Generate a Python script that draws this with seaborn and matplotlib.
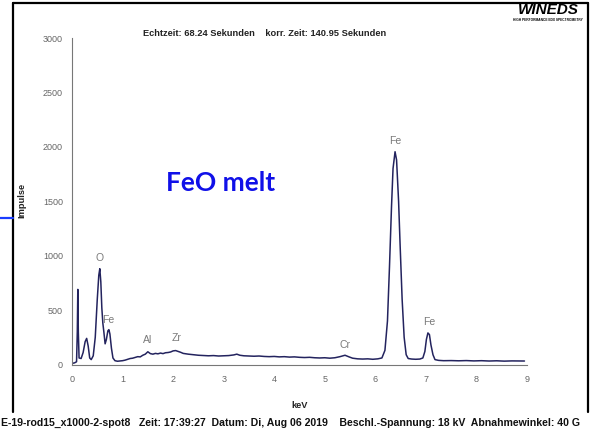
import matplotlib
matplotlib.use("Agg")
import matplotlib.pyplot as plt
import seaborn as sns
import pandas as pd
from matplotlib.lines import Line2D

# ---- data ----
kev = [0.00, 0.05, 0.09, 0.105, 0.115, 0.125, 0.14, 0.18, 0.22, 0.26, 0.29, 0.32, 0.35, 0.38,
       0.42, 0.46, 0.50, 0.53, 0.55, 0.57, 0.59, 0.61, 0.63, 0.655, 0.68, 0.71, 0.73, 0.75,
       0.78, 0.81, 0.85, 0.90, 0.95, 1.00, 1.05, 1.10, 1.15, 1.20, 1.25, 1.30, 1.35, 1.40,
       1.45, 1.50, 1.55, 1.60, 1.65, 1.70, 1.75, 1.80, 1.85, 1.90, 1.95, 2.00, 2.05, 2.10,
       2.15, 2.20, 2.30, 2.40, 2.50, 2.60, 2.70, 2.80, 2.90, 3.00, 3.10, 3.20, 3.26, 3.32,
       3.40, 3.50, 3.60, 3.70, 3.80, 3.90, 4.00, 4.10, 4.20, 4.30, 4.40, 4.50, 4.60, 4.70,
       4.80, 4.90, 5.00, 5.10, 5.20, 5.30, 5.40, 5.48, 5.55, 5.65, 5.75, 5.85, 5.95, 6.05,
       6.13, 6.19, 6.24, 6.28, 6.32, 6.35, 6.39, 6.42, 6.46, 6.49, 6.53, 6.57, 6.61, 6.65,
       6.72, 6.80, 6.88, 6.94, 6.98, 7.01, 7.04, 7.07, 7.10, 7.14, 7.18, 7.25, 7.35, 7.50,
       7.65, 7.80, 7.95, 8.10, 8.25, 8.40, 8.55, 8.70, 8.85, 8.95]
counts = [10, 15, 25, 300, 690, 300, 60, 55, 110, 210, 240, 170, 60, 45,
          80, 250, 600, 820, 880, 760, 520, 380, 300, 190, 230, 310, 320, 280,
          150, 60, 35, 30, 32, 35, 40, 48, 55, 58, 65, 72, 70, 85,
          95, 117, 100, 95, 102, 98, 105, 100, 108, 110, 115, 125, 128, 120,
          112, 102, 95, 90, 85, 82, 80, 82, 78, 80, 82, 88, 95, 85,
          80, 78, 76, 78, 74, 72, 74, 70, 72, 68, 70, 66, 64, 66,
          62, 60, 62, 58, 62, 72, 85, 70, 58, 52, 50, 52, 48, 52,
          60, 130, 400, 900, 1450, 1800, 1955, 1880, 1500, 1100, 600, 250, 90, 55,
          50, 48, 50, 60, 120, 230, 290, 275, 180, 90, 45, 38, 35, 36,
          34, 36, 33, 35, 32, 34, 31, 33, 32, 32]

peak_labels = ["O", "Fe", "Al", "Zr", "Cr", "Fe", "Fe"]
peak_x = [0.55, 0.72, 1.50, 2.06, 5.40, 6.40, 7.06]
peak_y = [977, 408, 225, 243, 179, 2052, 392]

x_ticks = [0, 1, 2, 3, 4, 5, 6, 7, 8, 9]
y_ticks = [0, 500, 1000, 1500, 2000, 2500, 3000]

sns.set_style("white")
plt.rcParams["font.family"] = ["Liberation Sans", "DejaVu Sans"]

W, H = 590, 436
fig = plt.figure(figsize=(W / 100, H / 100), dpi=100)
fig.patch.set_facecolor("white")

ax_left, ax_right = 72 / W, 527 / W
ax_bottom, ax_top = 1 - 364.5 / H, 1 - 38 / H
ax = fig.add_axes([ax_left, ax_bottom, ax_right - ax_left, ax_top - ax_bottom])

df = pd.DataFrame({"keV": kev, "Impulse": counts})
sns.lineplot(data=df, x="keV", y="Impulse", ax=ax, color="#23235e", lw=1.1, sort=False)

ax.set_xlim(0, 9)
ax.set_ylim(0, 3000)
ax.set_xticks(x_ticks)
ax.set_yticks(y_ticks)
ax.set_xticklabels([str(t) for t in x_ticks])
ax.set_yticklabels([str(t) for t in y_ticks])
ax.tick_params(axis="both", direction="out", length=4.5, width=0.8, color="#777777",
               labelsize=6.5, labelcolor="#666666", pad=3)
ax.tick_params(axis="y", pad=2)
for s in ["top", "right"]:
    ax.spines[s].set_visible(False)
for s in ["left", "bottom"]:
    ax.spines[s].set_color("#777777")
    ax.spines[s].set_linewidth(0.8)
ax.set_xlabel("")
ax.set_ylabel("")
ax.patch.set_alpha(0)

for lab, px, py in zip(peak_labels, peak_x, peak_y):
    ax.text(px, py, lab, ha="center", va="center", fontsize=7.5, color="#7a7a7a")

# texts in figure pixel coords
def fx(px):
    return px / W

def fy(py):
    return 1 - py / H

fig.text(fx(265), fy(33), "Echtzeit: 68.24 Sekunden    korr. Zeit: 140.95 Sekunden",
         ha="center", va="center", fontsize=6.7, fontweight="bold", color="#222222")
fig.text(fx(300), fy(405), "keV", ha="center", va="center", fontsize=6.7,
         fontweight="bold", color="#222222")
fig.text(fx(22), fy(200), "Impulse", ha="center", va="center", rotation=90,
         fontsize=6.7, fontweight="bold", color="#222222")
fig.text(fx(1), fy(423),
         "E-19-rod15_x1000-2-spot8   Zeit: 17:39:27  Datum: Di, Aug 06 2019    "
         "Beschl.-Spannung: 18 kV  Abnahmewinkel: 40 G",
         ha="left", va="center", fontsize=7.6, fontweight="bold", color="#111111")
fig.text(fx(221), fy(183), "FeO melt", ha="center", va="center", fontsize=19,
         fontweight="bold", color="#1010e8", family=["Lato", "DejaVu Sans"])
fig.text(fx(548), fy(10), "WINEDS", ha="center", va="center", fontsize=11,
         fontweight="heavy", style="italic", color="black")
fig.text(fx(548), fy(20), "HIGH PERFORMANCE EDX SPECTROMETRY", ha="center", va="center",
         fontsize=2.3, fontweight="bold", color="black")

# frame lines
fig.add_artist(Line2D([fx(13), fx(13)], [fy(3), fy(412)], color="black", lw=1.6))
fig.add_artist(Line2D([fx(13), fx(588)], [fy(3), fy(3)], color="black", lw=1.6))
fig.add_artist(Line2D([fx(588), fx(588)], [fy(3), fy(412)], color="black", lw=1.6))
fig.add_artist(Line2D([fx(0), fx(13)], [fy(218), fy(218)], color="#1a3cff", lw=1.6))

fig.savefig("out.png", dpi=100)
